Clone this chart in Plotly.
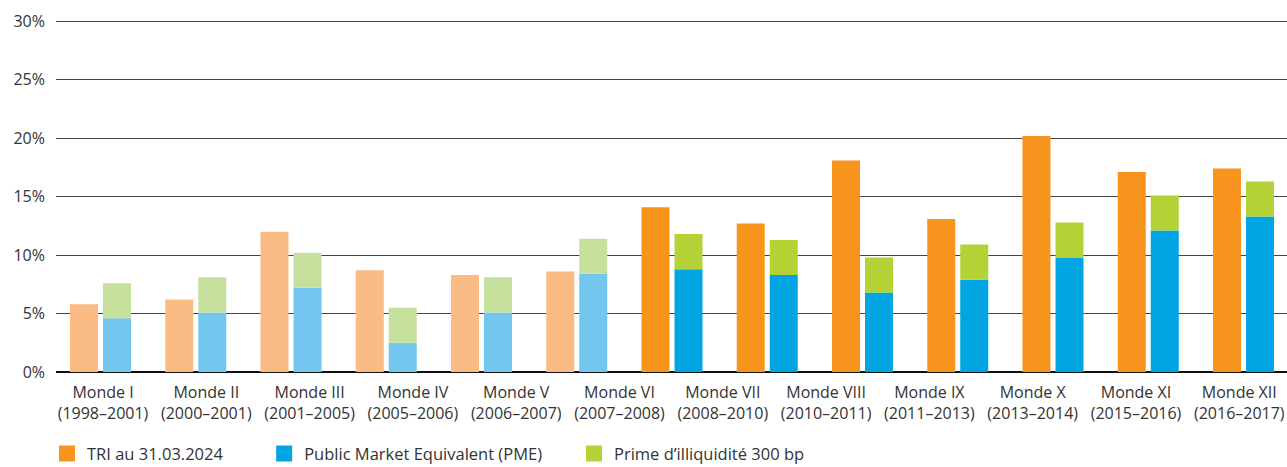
import numpy as np
import plotly.graph_objects as go

# ---- data ----
labels = ["Monde I<br>(1998–2001)", "Monde II<br>(2000–2001)", "Monde III<br>(2001–2005)",
          "Monde IV<br>(2005–2006)", "Monde V<br>(2006–2007)", "Monde VI<br>(2007–2008)",
          "Monde VII<br>(2008–2010)", "Monde VIII<br>(2010–2011)", "Monde IX<br>(2011–2013)",
          "Monde X<br>(2013–2014)", "Monde XI<br>(2015–2016)", "Monde XII<br>(2016–2017)"]
tri = [5.8, 6.2, 12.0, 8.7, 8.3, 8.6, 14.1, 12.7, 18.1, 13.1, 20.2, 17.1, 17.4]
pme = [4.6, 5.1, 7.2, 2.5, 5.1, 8.4, 8.8, 8.3, 6.8, 7.9, 9.8, 12.1, 13.3]
prime = [3.0, 3.0, 3.0, 3.0, 3.0, 3.0, 3.0, 3.0, 3.0, 3.0, 3.0, 3.0, 3.0]
mature = [True, True, True, True, True, True, False, False, False, False, False, False, False]
y_ticks = [0, 5, 10, 15, 20, 25, 30]
y_tick_text = ["0%", "5%", "10%", "15%", "20%", "25%", "30%"]
legend_names = ["TRI au 31.03.2024", "Public Market Equivalent (PME)", "Prime d’illiquidité 300 bp"]

# ---- styles ----
ORANGE, ORANGE_L = "#F7941D", "#FABB85"
BLUE, BLUE_L = "#00A5E1", "#73C6EE"
GREEN, GREEN_L = "#B3D235", "#C5DF9D"
FONT = "Open Sans"
TXT = "#333333"

idx = np.arange(len(tri))
BW = 0.294

def cols(full, light):
    return [light if m else full for m in mature]

fig = go.Figure()
fig.add_trace(go.Bar(x=idx, y=tri, width=BW, offset=-BW / 2,
                     marker=dict(color=cols(ORANGE, ORANGE_L), line=dict(width=0)),
                     showlegend=False, hoverinfo="skip"))
fig.add_trace(go.Bar(x=idx, y=pme, width=BW, offset=0.1995,
                     marker=dict(color=cols(BLUE, BLUE_L), line=dict(width=0)),
                     showlegend=False, hoverinfo="skip"))
fig.add_trace(go.Bar(x=idx, y=prime, base=pme, width=BW, offset=0.1995,
                     marker=dict(color=cols(GREEN, GREEN_L), line=dict(width=0)),
                     showlegend=False, hoverinfo="skip"))

# category labels on an overlaying axis
fig.add_trace(go.Scatter(x=labels, y=[0] * len(labels), xaxis="x2", mode="markers",
                         marker=dict(opacity=0), showlegend=False, hoverinfo="skip"))

# legend entries
for name, color, lg in zip(legend_names, [ORANGE, BLUE, GREEN], ["legend", "legend2", "legend3"]):
    fig.add_trace(go.Scatter(x=[None], y=[None], mode="markers", name=name, legend=lg,
                             marker=dict(symbol="square", size=20, color=color)))

leg_common = dict(orientation="h", yanchor="middle", xanchor="left",
                  font=dict(family=FONT, size=16.5, color=TXT), bgcolor="rgba(0,0,0,0)",
                  itemsizing="trace")

fig.update_layout(
    width=1287, height=467,
    margin=dict(l=56, r=0, t=19, b=95, autoexpand=False),
    paper_bgcolor="white", plot_bgcolor="white",
    barmode="overlay",
    font=dict(family=FONT, color=TXT),
    xaxis=dict(range=[-0.294, 12.63], showticklabels=False, showgrid=False,
               zeroline=False, ticks=""),
    xaxis2=dict(type="category", overlaying="x", anchor="y", side="bottom",
                range=[-0.455, 11.462], showgrid=False, zeroline=False, ticks="",
                tickfont=dict(family=FONT, size=16, color=TXT), ticklabelstandoff=9),
    yaxis=dict(range=[0, 30.2], tickmode="array", tickvals=y_ticks, ticktext=y_tick_text,
               showgrid=True, gridcolor="#444444", gridwidth=1.3, zeroline=True,
               zerolinecolor="#111111", zerolinewidth=1.6, ticks="", ticklabelstandoff=10,
               tickfont=dict(family=FONT, size=16, color=TXT)),
    legend=dict(x=-0.0073, y=-0.232, **leg_common),
    legend2=dict(x=0.1691, y=-0.232, **leg_common),
    legend3=dict(x=0.4208, y=-0.232, **leg_common),
    showlegend=True,
)

fig.write_html("out.html", config={"displayModeBar": False},
               post_script="document.body.style.margin='0px';document.body.style.overflow='hidden';")
